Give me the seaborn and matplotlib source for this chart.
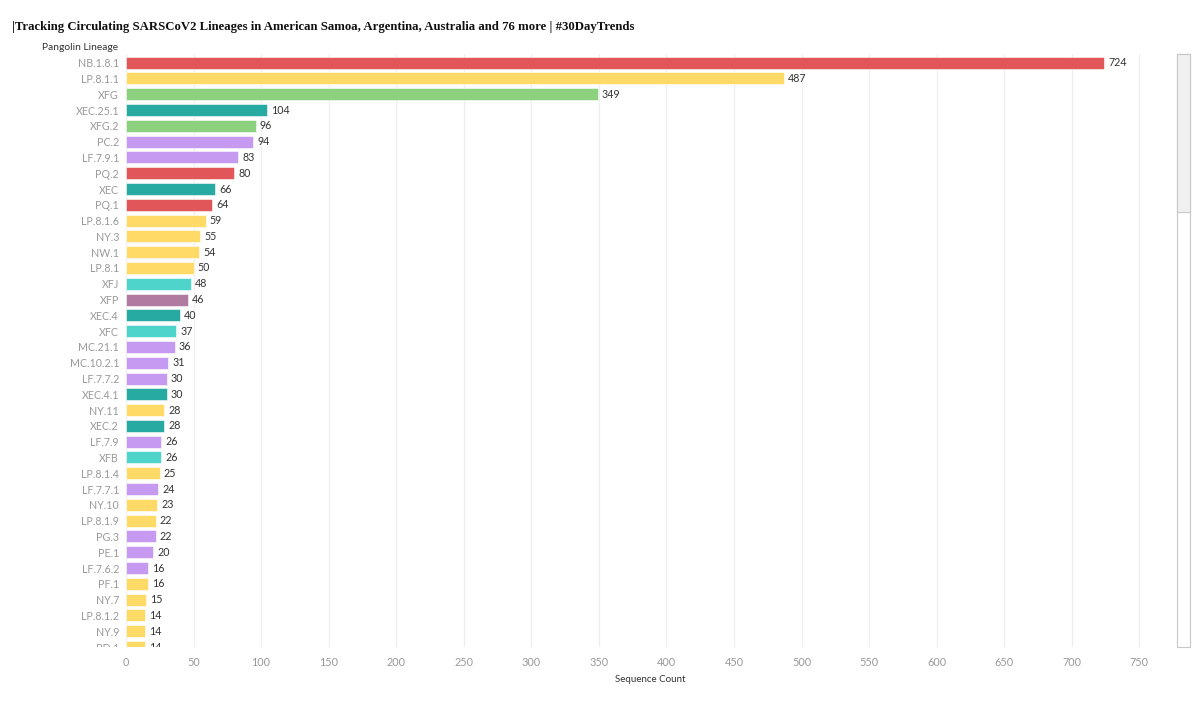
import matplotlib
matplotlib.use("Agg")
import matplotlib.pyplot as plt
from matplotlib.patches import Rectangle
import seaborn as sns
import pandas as pd

lineages = ["NB.1.8.1", "LP.8.1.1", "XFG", "XEC.25.1", "XFG.2", "PC.2", "LF.7.9.1", "PQ.2",
            "XEC", "PQ.1", "LP.8.1.6", "NY.3", "NW.1", "LP.8.1", "XFJ", "XFP", "XEC.4", "XFC",
            "MC.21.1", "MC.10.2.1", "LF.7.7.2", "XEC.4.1", "NY.11", "XEC.2", "LF.7.9", "XFB",
            "LP.8.1.4", "LF.7.7.1", "NY.10", "LP.8.1.9", "PG.3", "PE.1", "LF.7.6.2", "PF.1",
            "NY.7", "LP.8.1.2", "NY.9", "PD.1"]
counts = [724, 487, 349, 104, 96, 94, 83, 80, 66, 64, 59, 55, 54, 50, 48, 46, 40, 37,
          36, 31, 30, 30, 28, 28, 26, 26, 25, 24, 23, 22, 22, 20, 16, 16, 15, 14, 14, 14]
groups = ["red", "yellow", "green", "teal", "green", "purple", "purple", "red",
          "teal", "red", "yellow", "yellow", "yellow", "yellow", "cyan", "mauve", "teal", "cyan",
          "purple", "purple", "purple", "teal", "yellow", "teal", "purple", "cyan",
          "yellow", "purple", "yellow", "yellow", "purple", "purple", "purple", "yellow",
          "yellow", "yellow", "yellow", "yellow"]
group_colors = {"red": "#E15759", "yellow": "#FFDA66", "green": "#8CD17D", "teal": "#27AAA1",
                "cyan": "#4FD4CC", "purple": "#C59AF0", "mauve": "#B07AA1"}
x_ticks = list(range(0, 751, 50))

df = pd.DataFrame({"lineage": lineages, "count": counts, "group": groups})

sns.set_style("white")
plt.rcParams["font.family"] = ["Lato", "DejaVu Sans"]

fig = plt.figure(figsize=(12, 7.08), dpi=100)
top = 1 - 54 / 708
bottom = 1 - 647 / 708
left = 126 / 1200
x_max = 769
right = left + (1165 - 126) / 1200
ax = fig.add_axes([left, bottom, right - left, top - bottom])

palette = [group_colors[g] for g in groups]
sns.barplot(data=df, y="lineage", x="count", hue="lineage", palette=palette,
            legend=False, orient="h", width=0.76, ax=ax, saturation=1,
            edgecolor="white", linewidth=0.4)

ax.set_xlim(0, x_max)
ax.set_ylim(37.0, -0.55)
ax.set_xticks(x_ticks)
ax.set_xticklabels([str(t) for t in x_ticks], color="#999999", fontsize=7.8)
ax.set_yticks(range(len(lineages)))
ax.set_yticklabels(lineages, color="#999999", fontsize=7.7)
ax.tick_params(axis="x", length=0, pad=7)
ax.tick_params(axis="y", length=0, pad=5)
ax.grid(axis="x", color="#efefef", linewidth=0.9)
ax.set_axisbelow(True)
for s in ax.spines.values():
    s.set_visible(False)
ax.axvline(0, color="#e6e6e6", linewidth=0.8, zorder=0.5)
ax.set_ylabel("")
ax.set_xlabel("Sequence Count", fontsize=7.0, color="#333333")
ax.xaxis.set_label_coords((650 - 126) / (1165 - 126), -(680 - 647) / 593)
ax.xaxis.label.set_va("center")

for cont in ax.containers:
    ax.bar_label(cont, padding=3, fontsize=7.7, color="#333333", clip_on=True)

# cover lower half of the clipped last tick label
fig.add_artist(Rectangle((0, bottom - 7 / 708), left - 0.002, 7 / 708,
                         transform=fig.transFigure, facecolor="white",
                         edgecolor="none", zorder=10))

fig.text(12 / 1200, 1 - 27 / 708,
         "|Tracking Circulating SARSCoV2 Lineages in American Samoa, Argentina, Australia and 76 more | #30DayTrends",
         fontsize=9.15, fontweight="bold", family=["Liberation Serif", "DejaVu Serif"],
         color="#111111", va="center", ha="left")
fig.text(42 / 1200, 1 - 48 / 708, "Pangolin Lineage", fontsize=7.4, color="#333333",
         va="center", ha="left")

# scrollbar
fig.add_artist(Rectangle((1177 / 1200, 1 - 647 / 708), 13 / 1200, 593 / 708,
                         transform=fig.transFigure, facecolor="white",
                         edgecolor="#c8c8c8", linewidth=0.8))
fig.add_artist(Rectangle((1177 / 1200, 1 - 212 / 708), 13 / 1200, 158 / 708,
                         transform=fig.transFigure, facecolor="#f0f0f0",
                         edgecolor="#c8c8c8", linewidth=0.8))

fig.savefig("out.png", dpi=100, facecolor="white")
